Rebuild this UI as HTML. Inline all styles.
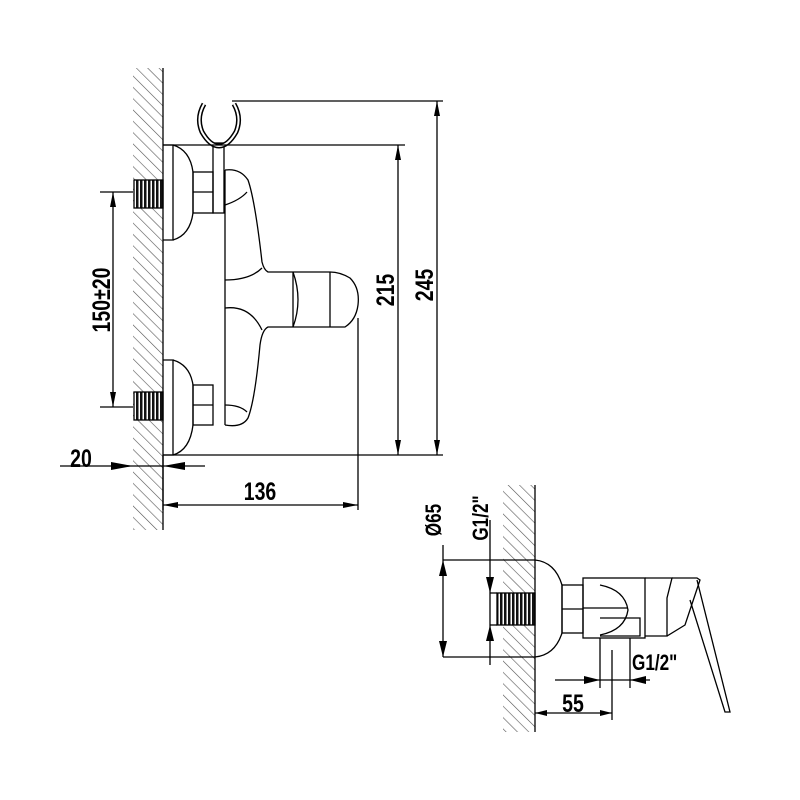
<!DOCTYPE html>
<html><head><meta charset="utf-8"><style>
html,body{margin:0;padding:0;background:#fff;width:800px;height:800px;overflow:hidden}
text{font-family:"Liberation Sans",sans-serif;font-weight:bold;fill:#000}
</style></head><body>
<svg width="800" height="800" viewBox="0 0 800 800" xmlns="http://www.w3.org/2000/svg">
<defs>
<pattern id="h" width="8" height="8" patternUnits="userSpaceOnUse" patternTransform="rotate(-45)">
<line x1="0" y1="0" x2="0" y2="8" stroke="#555" stroke-width="1.2"/>
</pattern>
<pattern id="t2" width="4" height="30" patternUnits="userSpaceOnUse">
<rect width="4" height="30" fill="#fff"/><rect width="2.5" height="30" fill="#111"/>
</pattern>
</defs>
<g fill="none" stroke="#000" stroke-width="1.3">
<rect x="133" y="68" width="30" height="462" fill="url(#h)" stroke="none"/>
<line x1="163" y1="68" x2="163" y2="530"/>
<rect x="134" y="180" width="29" height="28" fill="url(#t2)" stroke="#000"/>
<rect x="134" y="392" width="29" height="28" fill="url(#t2)" stroke="#000"/>
<path d="M163 145 H173 V240 H163"/>
<path d="M173 145 Q190 150 193 172 V213 Q190 235 173 240"/>
<rect x="193" y="172" width="20" height="41"/><line x1="193" y1="192" x2="213" y2="192"/>
<path d="M163 360 H173 V455 H163"/>
<path d="M173 360 Q190 365 193 385 V425 Q190 450 173 455"/>
<rect x="193" y="385" width="20" height="40"/><line x1="193" y1="405" x2="213" y2="405"/>
<rect x="213" y="143" width="11" height="70"/>
<path d="M204 104 Q196 118 202 132 Q210 146 219 146 Q228 146 236 132 Q242 118 234 104" stroke-width="5"/>
<path d="M204 104 Q196 118 202 132 Q210 146 219 146 Q228 146 236 132 Q242 118 234 104" stroke="#fff" stroke-width="2"/>
<line x1="225" y1="170" x2="225" y2="425"/>
<path d="M225 170 Q240 168 248 180 Q255 200 262 262 Q264 270 268 272 H330 Q340 272 350 278 Q360 288 358 305 Q356 320 345 327 H268 Q262 330 260 345 Q255 400 248 418 Q242 428 225 425"/>
<path d="M225 280 Q250 280 262 268"/><path d="M225 308 Q250 305 262 330"/>
<path d="M225 205 Q240 200 247 192"/><path d="M225 405 Q240 405 247 412"/>
<path d="M293 272 Q303 300 293 327"/><line x1="293" y1="272" x2="293" y2="327"/>
<line x1="330" y1="272" x2="330" y2="327"/>
<line x1="163" y1="145" x2="405" y2="145"/>
<line x1="163" y1="455" x2="443" y2="455"/>
<line x1="232" y1="101" x2="443" y2="101"/>
<line x1="398" y1="145" x2="398" y2="455"/>
<line x1="437" y1="101" x2="437" y2="455"/>
<line x1="358" y1="318" x2="358" y2="510"/>
<line x1="163" y1="455" x2="163" y2="510"/>
<line x1="163" y1="505" x2="358" y2="505"/>
<line x1="100" y1="192" x2="133" y2="192"/>
<line x1="100" y1="407" x2="133" y2="407"/>
<line x1="113" y1="192" x2="113" y2="407"/>
<line x1="60" y1="466" x2="205" y2="466"/>
<rect x="503" y="485" width="32" height="247" fill="url(#h)" stroke="none"/>
<line x1="535" y1="485" x2="535" y2="732"/>
<rect x="497" y="593" width="38" height="32" fill="url(#t2)" stroke="#000"/>
<path d="M535 560 Q555 562 562 585 V633 Q555 655 535 657"/>
<rect x="562" y="585" width="21" height="48"/><line x1="562" y1="609" x2="583" y2="609"/>
<rect x="583" y="578" width="62" height="60"/>
<path d="M600 585 Q625 590 628 610 Q625 630 600 635"/>
<line x1="583" y1="608" x2="628" y2="608"/>
<path d="M600 618 H640 V636 H600"/>
<path d="M645 578 H672 L667 598 V636 H645"/>
<path d="M672 578 H697 L700 580 L685 625 L667 636"/>
<path d="M697 580 L730 712 L725 712 L690 600"/>
<line x1="600" y1="638" x2="600" y2="688"/><line x1="630" y1="638" x2="630" y2="688"/>
<line x1="612" y1="650" x2="612" y2="720"/>
<line x1="443" y1="560" x2="535" y2="560"/><line x1="443" y1="657" x2="535" y2="657"/>
<line x1="443" y1="545" x2="443" y2="657"/>
<line x1="490" y1="520" x2="490" y2="665"/>
<line x1="490" y1="593" x2="497" y2="593"/><line x1="490" y1="625" x2="497" y2="625"/>
<line x1="555" y1="680" x2="650" y2="680"/>
<line x1="535" y1="713" x2="612" y2="713"/>
</g>
<g fill="#000">
<path d="M398 145 l-3 15 h6z"/><path d="M398 455 l-3 -15 h6z"/>
<path d="M437 101 l-3 15 h6z"/><path d="M437 455 l-3 -15 h6z"/>
<path d="M163 505 l15 -3 v6z"/><path d="M358 505 l-15 -3 v6z"/>
<path d="M113 192 l-3 15 h6z"/><path d="M113 407 l-3 -15 h6z"/>
<path d="M133 466 l-22 -4 v8z"/><path d="M163 466 l22 -4 v8z"/>
<path d="M443 560 l-4 16 h8z"/><path d="M443 657 l-4 -16 h8z"/>
<path d="M490 593 l-4 -16 h8z"/><path d="M490 625 l-4 16 h8z"/>
<path d="M600 680 l-16 -4 v8z"/><path d="M630 680 l16 -4 v8z"/>
<path d="M535 713 l12 -3 v6z"/><path d="M612 713 l-12 -3 v6z"/>
</g>
<text font-size="25" text-anchor="middle" transform="translate(260,500) scale(0.78,1)">136</text>
<text font-size="25" text-anchor="middle" transform="translate(81,467) scale(0.78,1)">20</text>
<text font-size="25" text-anchor="middle" transform="translate(394,290) rotate(-90) scale(0.78,1)">215</text>
<text font-size="25" text-anchor="middle" transform="translate(433,285) rotate(-90) scale(0.78,1)">245</text>
<text font-size="25" text-anchor="middle" transform="translate(110,300) rotate(-90) scale(0.78,1)">150±20</text>
<text font-size="25" text-anchor="middle" transform="translate(573,712) scale(0.78,1)">55</text>
<text font-size="22" transform="translate(632,670) scale(0.78,1)">G1/2"</text>
<text font-size="22" text-anchor="middle" transform="translate(441,520) rotate(-90) scale(0.78,1)">Ø65</text>
<text font-size="22" text-anchor="middle" transform="translate(488,518) rotate(-90) scale(0.78,1)">G1/2"</text>
</svg>
</body></html>
